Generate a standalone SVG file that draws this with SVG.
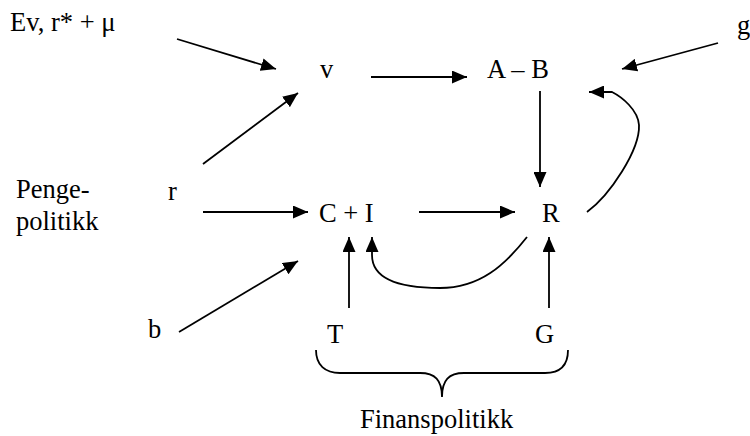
<svg xmlns="http://www.w3.org/2000/svg" width="750" height="436" viewBox="0 0 750 436">
<style>
text{font-family:"Liberation Serif","Times New Roman",serif;font-size:26.5px;fill:#000}
.c{fill:none;stroke:#000;stroke-width:1.8}
.a{marker-end:url(#ah)}
</style>
<defs>
<marker id="ah" viewBox="0 0 15 13" refX="15" refY="6.5" markerWidth="15" markerHeight="13" markerUnits="userSpaceOnUse" orient="auto">
<path d="M0,0 L15,6.5 L0,13 z" fill="#000"/>
</marker>
</defs>
<rect width="750" height="436" fill="#fff"/>
<g id="connectors">
<line class="c a" x1="177" y1="39" x2="276" y2="69"/>
<line class="c a" x1="203" y1="164" x2="298" y2="93"/>
<line class="c a" x1="371" y1="77" x2="467" y2="77"/>
<line class="c a" x1="718" y1="43" x2="622" y2="69"/>
<line class="c a" x1="540" y1="91" x2="540" y2="187"/>
<line class="c a" x1="203" y1="212" x2="308" y2="212"/>
<line class="c a" x1="419" y1="212" x2="515" y2="212"/>
<line class="c a" x1="179" y1="332" x2="298" y2="261"/>
<line class="c a" x1="349" y1="308" x2="349" y2="237"/>
<line class="c a" x1="549" y1="308" x2="549" y2="237"/>
<path class="c a" d="M587,212 C610,195 640,150 639,125 C638,110 622,97 612,92 L589,92"/>
<path class="c a" d="M527,237 C505,265 480,288 440,288 C400,288 372,280 372,255 L372,237"/>
<path class="c" d="M316,350 C316,365 325,373 340,373 L420,373 C435,373 442,380 442,397 C442,380 449,373 464,373 L545,373 C560,373 568,365 568,350"/>
</g>
<g id="n-ev"><text x="10" y="31">Ev, r* + μ</text></g>
<g id="n-g"><text x="737" y="34">g</text></g>
<g id="n-v"><text x="320" y="78">v</text></g>
<g id="n-ab"><text x="487" y="78">A – B</text></g>
<g id="n-penge"><text x="16" y="198">Penge-</text><text x="16" y="230">politikk</text></g>
<g id="n-r"><text x="168" y="200">r</text></g>
<g id="n-ci"><text x="319" y="222">C + I</text></g>
<g id="n-R"><text x="542" y="222">R</text></g>
<g id="n-b"><text x="148" y="338">b</text></g>
<g id="n-T"><text x="327" y="343">T</text></g>
<g id="n-G"><text x="535" y="343">G</text></g>
<g id="n-fin"><text x="360" y="428">Finanspolitikk</text></g>
</svg>
